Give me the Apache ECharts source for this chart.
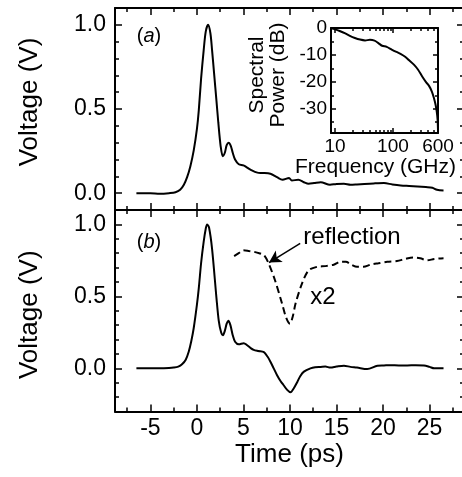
<!DOCTYPE html>
<html>
<head>
<meta charset="utf-8">
<script src="https://cdn.jsdelivr.net/npm/echarts@6/dist/echarts.min.js"></script>
<style>
  html, body { margin: 0; padding: 0; background: #fff; }
  #chart { width: 462px; height: 477px; }
</style>
</head>
<body>
<div id="chart"></div>
<script>
// panel (a): measured pulse
var timeA = [-6.5, -5, -4, -3, -2.3, -1.8, -1.4, -1.05, -0.7, -0.34, 0, 0.2, 0.45, 0.73, 0.95, 1.2, 1.45, 1.63, 1.85, 2.1, 2.3, 2.55, 2.78, 3.0, 3.2, 3.42, 3.65, 3.85, 4.1, 4.5, 5.0, 5.4, 5.75, 6.5, 7.0, 7.9, 8.6, 9.2, 9.9, 10.2, 10.9, 11.5, 12.0, 12.6, 13.3, 14.3, 15.0, 15.8, 16.5, 17.2, 18.0, 19.0, 20.1, 21.0, 21.9, 22.8, 23.7, 24.6, 25.3, 25.8, 26.5];
var voltA = [0, 0, -0.003, 0, 0.005, 0.02, 0.05, 0.095, 0.16, 0.254, 0.38, 0.49, 0.68, 0.85, 0.96, 1.0, 0.95, 0.85, 0.71, 0.55, 0.42, 0.28, 0.22, 0.24, 0.285, 0.30, 0.28, 0.24, 0.2, 0.172, 0.165, 0.152, 0.14, 0.122, 0.12, 0.115, 0.095, 0.08, 0.09, 0.075, 0.08, 0.065, 0.056, 0.06, 0.065, 0.05, 0.055, 0.056, 0.05, 0.052, 0.055, 0.058, 0.06, 0.052, 0.046, 0.043, 0.04, 0.036, 0.032, 0.02, 0.016];

// panel (b): pulse with reflection, and reflection x2 (dashed)
var timeB = [-6.5, -5, -4, -3, -2.5, -2.0, -1.6, -1.2, -0.88, -0.6, -0.34, 0, 0.2, 0.45, 0.73, 0.95, 1.1, 1.3, 1.63, 2.1, 2.35, 2.6, 2.8, 3.0, 3.2, 3.38, 3.6, 3.85, 4.1, 4.5, 5.03, 5.4, 5.75, 6.1, 6.6, 7.2, 7.6, 7.9, 8.25, 8.6, 9.0, 9.3, 9.7, 10.05, 10.4, 10.8, 11.1, 11.5, 12.2, 12.7, 13.3, 13.8, 14.35, 15.0, 15.8, 16.5, 17.2, 18.3, 19.4, 20.1, 20.8, 21.7, 22.6, 23.5, 24.4, 25.0, 25.5, 26.5];
var voltB = [0, 0, 0, 0.002, 0.005, 0.012, 0.028, 0.06, 0.115, 0.19, 0.28, 0.44, 0.555, 0.73, 0.88, 0.97, 1.0, 0.98, 0.83, 0.49, 0.33, 0.25, 0.23, 0.26, 0.31, 0.33, 0.3, 0.23, 0.185, 0.167, 0.175, 0.16, 0.142, 0.128, 0.12, 0.112, 0.08, 0.046, 0.0, -0.046, -0.09, -0.116, -0.15, -0.167, -0.14, -0.093, -0.055, -0.023, 0.0, 0.008, 0.01, 0.012, 0.005, 0.012, 0.018, 0.01, 0.005, -0.005, 0.018, 0.02, 0.022, 0.02, 0.02, 0.022, 0.02, 0.01, 0.0, 0.0];
var timeR = [4.0, 4.5, 5.0, 5.6, 6.1, 6.7, 7.2, 7.7, 8.4, 9.15, 9.6, 10.0, 10.3, 10.6, 11.3, 12.0, 12.9, 13.8, 14.7, 15.4, 16.0, 16.6, 17.2, 17.9, 18.65, 19.5, 20.45, 21.5, 22.4, 23.3, 24.0, 24.75, 25.5, 26.5];
var voltR = [0.78, 0.8, 0.82, 0.815, 0.81, 0.8, 0.787, 0.73, 0.61, 0.45, 0.35, 0.31, 0.36, 0.45, 0.59, 0.68, 0.705, 0.71, 0.72, 0.74, 0.74, 0.72, 0.705, 0.705, 0.72, 0.73, 0.74, 0.745, 0.76, 0.77, 0.765, 0.75, 0.76, 0.765];

// inset: spectrum
var freqGHz = [8.5, 10, 12, 15, 18, 22, 27, 33, 40, 48, 56, 65, 78, 95, 115, 135, 160, 190, 230, 270, 320, 370, 420, 470, 510, 545, 570, 590, 600];
var powerDb = [-0.1, -0.5, -1.1, -2.0, -2.9, -3.7, -4.3, -4.6, -4.4, -4.7, -5.6, -6.6, -7.0, -8.0, -8.9, -9.6, -10.6, -12.0, -13.6, -15.4, -18.0, -20.0, -21.5, -23.6, -26.0, -28.5, -31.0, -34.0, -38.0];

// ticks and labels
var timeTicks = [-5, 0, 5, 10, 15, 20, 25];
var timeMinor = [-7.5, -2.5, 2.5, 7.5, 12.5, 17.5, 22.5, 27.5];
var voltTicks = [0, 0.5, 1.0];
var voltMinorA = [0.1, 0.2, 0.3, 0.4, 0.6, 0.7, 0.8, 0.9];
var voltMinorB = [-0.2, -0.1, 0.1, 0.2, 0.3, 0.4, 0.6, 0.7, 0.8, 0.9];
var freqLabels = [10, 100, 600];
var freqTicks = [10, 100];
var freqMinor = [20, 30, 40, 50, 60, 70, 80, 90, 200, 300, 400, 500];
var dbTicks = [0, -10, -20, -30];
var dbMinor = [-5, -15, -25, -35];

var FONT = '"Liberation Sans", Arial, Helvetica, sans-serif';
var lg = function (v) { return Math.log10(v); };

function pairs(xs, ys) {
  return xs.map(function (x, i) { return [x, ys[i]]; });
}

// builds 4 axes (main side major / minor, opposite side major / minor) for one grid
function frameAxes(dim, grid, o) {
  var sides = dim === 'x' ? ['bottom', 'top'] : ['left', 'right'];
  var axes = [];
  sides.forEach(function (pos, k) {
    [true, false].forEach(function (major) {
      var main = k === 0 && major;
      var ax = {
        type: 'value',
        gridIndex: grid,
        position: pos,
        min: o.min,
        max: o.max,
        axisLine: { show: major, onZero: false, lineStyle: { color: '#000', width: 2 } },
        axisTick: {
          show: true, inside: true,
          length: major ? o.majorLen : o.minorLen,
          customValues: major ? o.major : o.minor,
          lineStyle: { color: '#000', width: 1.5 }
        },
        axisLabel: { show: false },
        splitLine: { show: false }
      };
      if (main && o.labels) {
        ax.axisLabel = {
          show: true, customValues: o.labels, formatter: o.fmt,
          margin: o.margin, fontSize: o.fontSize, color: '#000', fontFamily: FONT
        };
      }
      if (main && o.name) {
        ax.name = o.name;
        ax.nameLocation = 'middle';
        ax.nameGap = o.nameGap;
        if (dim === 'y') ax.nameRotate = 90;
        ax.nameTextStyle = {
          fontSize: o.nameSize, color: '#000', fontFamily: FONT,
          lineHeight: o.nameLineHeight || o.nameSize, padding: o.namePadding || 0
        };
      }
      axes.push(ax);
    });
  });
  return axes;
}

var tMin = -8.8, tMax = 28.7;
var fmtV = function (v) { return v.toFixed(1); };
var fmtT = function (v) { return String(v); };

var xAxes = []
  .concat(frameAxes('x', 0, { min: tMin, max: tMax, major: timeTicks, minor: timeMinor, majorLen: 7, minorLen: 4 }))
  .concat(frameAxes('x', 1, { min: tMin, max: tMax, major: timeTicks, minor: timeMinor, majorLen: 7, minorLen: 4,
    labels: timeTicks, fmt: fmtT, margin: 6, fontSize: 23, name: 'Time (ps)', nameGap: 30, nameSize: 26 }))
  .concat(frameAxes('x', 2, { min: lg(8.5), max: lg(600), major: freqTicks.map(lg), minor: freqMinor.map(lg), majorLen: 5, minorLen: 3,
    labels: freqLabels.map(lg), fmt: function (v) { return String(Math.round(Math.pow(10, v))); },
    margin: 4, fontSize: 19, name: 'Frequency (GHz)', nameGap: 23, nameSize: 21, namePadding: [0, 18, 0, 0] }));

var yAxes = []
  .concat(frameAxes('y', 0, { min: -0.1, max: 1.1, major: voltTicks, minor: voltMinorA, majorLen: 7, minorLen: 4,
    labels: voltTicks, fmt: fmtV, margin: 9, fontSize: 23, name: 'Voltage (V)', nameGap: 72, nameSize: 26,
    namePadding: [0, 0, 0, 14] }))
  .concat(frameAxes('y', 1, { min: -0.3, max: 1.1, major: voltTicks, minor: voltMinorB, majorLen: 7, minorLen: 4,
    labels: voltTicks, fmt: fmtV, margin: 9, fontSize: 23, name: 'Voltage (V)', nameGap: 72, nameSize: 26,
    namePadding: [0, 8, 0, 0] }))
  .concat(frameAxes('y', 2, { min: -39, max: 0, major: dbTicks, minor: dbMinor, majorLen: 5, minorLen: 3,
    labels: dbTicks, fmt: function (v) { return String(v); }, margin: 4, fontSize: 19,
    name: 'Spectral\nPower (dB)', nameGap: 42, nameSize: 21, nameLineHeight: 21, namePadding: [0, 0, 0, 11] }));

var line = { color: '#000', width: 2 };

var option = {
  animation: false,
  backgroundColor: '#fff',
  grid: [
    { left: 115, top: 8, width: 349, height: 202, outerBoundsMode: 'none' },
    { left: 115, top: 210, width: 349, height: 201.5, outerBoundsMode: 'none' },
    { left: 331, top: 28, width: 107, height: 105, outerBoundsMode: 'none' }
  ],
  xAxis: xAxes,
  yAxis: yAxes,
  series: [
    {
      type: 'line', xAxisIndex: 0, yAxisIndex: 0, data: pairs(timeA, voltA),
      showSymbol: false, smooth: 0.3, lineStyle: line, silent: true
    },
    {
      type: 'line', xAxisIndex: 4, yAxisIndex: 4, data: pairs(timeB, voltB),
      showSymbol: false, smooth: 0.3, lineStyle: line, silent: true
    },
    {
      type: 'line', xAxisIndex: 4, yAxisIndex: 4, data: pairs(timeR, voltR),
      showSymbol: false, smooth: 0.3, silent: true,
      lineStyle: { color: '#000', width: 2, type: [7, 4] },
      markLine: {
        silent: true,
        symbol: ['none', 'arrow'],
        symbolSize: [10, 12],
        label: { show: false },
        lineStyle: { color: '#000', width: 1.5, type: 'solid' },
        data: [[{ coord: [11.1, 0.868] }, { coord: [7.75, 0.735] }]]
      }
    },
    {
      type: 'line', xAxisIndex: 8, yAxisIndex: 8, data: pairs(freqGHz.map(lg), powerDb),
      showSymbol: false, smooth: 0.3, lineStyle: line, silent: true
    }
  ],
  graphic: [
    { type: 'text', x: 149, y: 36, style: { text: '({i|a})', rich: { i: { fontStyle: 'italic', fontSize: 20, fontFamily: FONT } },
      fontSize: 20, fontFamily: FONT, fill: '#000', align: 'center', verticalAlign: 'middle' } },
    { type: 'text', x: 149, y: 242, style: { text: '({i|b})', rich: { i: { fontStyle: 'italic', fontSize: 20, fontFamily: FONT } },
      fontSize: 20, fontFamily: FONT, fill: '#000', align: 'center', verticalAlign: 'middle' } },
    { type: 'text', x: 352, y: 237, style: { text: 'reflection', fontSize: 24, fontFamily: FONT, fill: '#000', align: 'center', verticalAlign: 'middle' } },
    { type: 'text', x: 323, y: 297, style: { text: 'x2', fontSize: 24, fontFamily: FONT, fill: '#000', align: 'center', verticalAlign: 'middle' } }
  ]
};

var myChart = echarts.init(document.getElementById('chart'));
myChart.setOption(option);
</script>
</body>
</html>
